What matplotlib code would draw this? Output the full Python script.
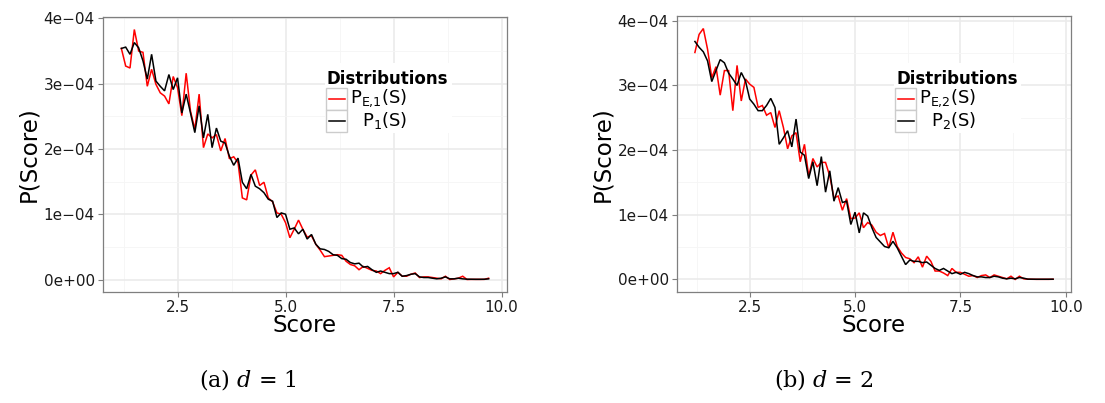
import numpy as np
import matplotlib
matplotlib.use("Agg")
import matplotlib.pyplot as plt
from matplotlib.patches import Rectangle
from matplotlib.lines import Line2D
from matplotlib.ticker import FixedLocator, FuncFormatter

# ---- data (probabilities in units of 1e-4) ----
scores = np.round(np.arange(12, 98) / 10.0, 1)   # 1.2 ... 9.7

p_e1 = [3.54, 3.27, 3.24, 3.83, 3.50, 3.48, 2.96, 3.22, 2.99, 2.86,
        2.81, 2.69, 3.11, 2.94, 2.51, 3.16, 2.58, 2.30, 2.84, 2.02,
        2.23, 2.17, 2.22, 1.97, 2.16, 1.85, 1.88, 1.79, 1.25, 1.22,
        1.60, 1.68, 1.44, 1.49, 1.25, 1.19, 1.02, 1.00, 0.87, 0.64,
        0.77, 0.91, 0.77, 0.65, 0.67, 0.54, 0.45, 0.35, 0.36, 0.37,
        0.38, 0.37, 0.28, 0.23, 0.21, 0.15, 0.20, 0.17, 0.14, 0.13,
        0.09, 0.14, 0.18, 0.04, 0.11, 0.05, 0.05, 0.08, 0.10, 0.03,
        0.04, 0.04, 0.03, 0.02, 0.01, 0.05, 0.00, 0.01, 0.02, 0.05,
        0.00, 0.002, 0.002, 0.002, 0.002, 0.02]
p_1 = [3.54, 3.56, 3.45, 3.63, 3.55, 3.35, 3.07, 3.45, 3.04, 2.96,
       2.89, 3.14, 2.91, 3.09, 2.55, 2.84, 2.55, 2.25, 2.66, 2.17,
       2.53, 2.02, 2.32, 2.12, 2.09, 1.89, 1.75, 1.86, 1.49, 1.39,
       1.61, 1.43, 1.39, 1.33, 1.23, 1.20, 0.95, 1.02, 1.00, 0.77,
       0.79, 0.70, 0.77, 0.62, 0.69, 0.54, 0.47, 0.46, 0.43, 0.38,
       0.37, 0.32, 0.31, 0.26, 0.24, 0.25, 0.19, 0.20, 0.15, 0.11,
       0.13, 0.11, 0.09, 0.09, 0.11, 0.05, 0.06, 0.08, 0.09, 0.04,
       0.03, 0.03, 0.02, 0.01, 0.02, 0.04, 0.01, 0.01, 0.02, 0.01,
       0.005, 0.004, 0.003, 0.003, 0.004, 0.01]
p_e2 = [3.51, 3.79, 3.88, 3.56, 3.12, 3.29, 2.85, 3.23, 3.23, 2.61,
        3.31, 2.76, 3.10, 3.02, 2.97, 2.66, 2.69, 2.54, 2.58, 2.35,
        2.61, 2.35, 2.02, 2.22, 2.27, 1.82, 2.09, 1.60, 1.87, 1.74,
        1.81, 1.81, 1.60, 1.26, 1.29, 1.07, 1.25, 0.94, 0.95, 1.03,
        0.80, 0.88, 0.84, 0.73, 0.68, 0.71, 0.49, 0.73, 0.51, 0.41,
        0.34, 0.32, 0.26, 0.35, 0.19, 0.36, 0.28, 0.13, 0.13, 0.10,
        0.06, 0.17, 0.11, 0.11, 0.08, 0.05, 0.06, 0.03, 0.06, 0.07,
        0.03, 0.07, 0.05, 0.03, 0.01, 0.05, 0.00, 0.05, 0.01, 0.004,
        0.003, 0.002, 0.002, 0.002, 0.002, 0.003]
p_2 = [3.68, 3.59, 3.52, 3.38, 3.06, 3.23, 3.40, 3.35, 3.19, 3.10,
       3.00, 3.20, 3.07, 2.79, 2.71, 2.61, 2.61, 2.69, 2.80, 2.66,
       2.09, 2.19, 2.30, 2.05, 2.48, 1.97, 1.92, 1.56, 1.82, 1.45,
       1.90, 1.35, 1.68, 1.21, 1.42, 1.19, 1.21, 0.85, 1.04, 0.72,
       1.03, 0.98, 0.80, 0.65, 0.58, 0.51, 0.49, 0.59, 0.49, 0.36,
       0.23, 0.30, 0.28, 0.28, 0.26, 0.27, 0.22, 0.17, 0.14, 0.17,
       0.13, 0.09, 0.11, 0.08, 0.11, 0.09, 0.06, 0.04, 0.04, 0.03,
       0.03, 0.05, 0.04, 0.02, 0.01, 0.02, 0.01, 0.03, 0.02, 0.005,
       0.004, 0.003, 0.003, 0.003, 0.003, 0.004]

series_colors = ["#ff0000", "#000000"]
x_ticks = [2.5, 5.0, 7.5, 10.0]
y_ticks = [0.0, 1e-4, 2e-4, 3e-4, 4e-4]

panels = [
    dict(curves=[p_e1, p_1],
         labels=[r"P$_{\mathrm{E{,}1}}$(S)", r"P$_{\mathrm{1}}$(S)"],
         caption=r"(a) $d$ = 1",
         box=(103, 17, 507, 292), leg_dx=0, cap_x=248),
    dict(curves=[p_e2, p_2],
         labels=[r"P$_{\mathrm{E{,}2}}$(S)", r"P$_{\mathrm{2}}$(S)"],
         caption=r"(b) $d$ = 2",
         box=(677, 16, 1071, 292), leg_dx=569, cap_x=824),
]

W, H = 1105, 403
fig = plt.figure(figsize=(W / 100, H / 100), dpi=100)
fig.patch.set_facecolor("white")
plt.rcParams["font.family"] = ["DejaVu Sans"]


def fx(px):
    return px / W


def fy(py):
    return 1 - py / H


def sci_fmt(v, _pos):
    s = "%.0e" % v
    return s.replace("-", "\u2212")


for p in panels:
    x0, y0, x1, y1 = p["box"]
    ax = fig.add_axes([fx(x0), fy(y1), fx(x1) - fx(x0), fy(y0) - fy(y1)])
    ax.set_facecolor("white")

    for vals, col in zip(p["curves"], series_colors):
        ax.plot(scores, np.asarray(vals) * 1e-4, color=col, lw=1.1,
                solid_joinstyle="miter", zorder=3)

    # ggplot-style 5% expansion of the data range
    xr = scores.max() - scores.min()
    ax.set_xlim(scores.min() - 0.05 * xr, scores.max() + 0.05 * xr)
    allv = np.concatenate([np.asarray(c) for c in p["curves"]]) * 1e-4
    yr = allv.max() - allv.min()
    ax.set_ylim(allv.min() - 0.05 * yr, allv.max() + 0.05 * yr)

    ax.xaxis.set_major_locator(FixedLocator(x_ticks))
    ax.xaxis.set_minor_locator(FixedLocator([1.25, 3.75, 6.25, 8.75]))
    ax.yaxis.set_major_locator(FixedLocator(y_ticks))
    ax.yaxis.set_minor_locator(FixedLocator([0.5e-4, 1.5e-4, 2.5e-4, 3.5e-4]))
    ax.xaxis.set_major_formatter(FuncFormatter(lambda v, _p: "%.1f" % v))
    ax.yaxis.set_major_formatter(FuncFormatter(sci_fmt))

    ax.grid(which="major", color="#ebebeb", lw=1.2, zorder=0)
    ax.grid(which="minor", color="#f5f5f5", lw=0.6, zorder=0)
    ax.set_axisbelow(True)

    ax.tick_params(which="major", direction="out", length=3.5, width=0.8,
                   color="#7f7f7f", labelsize=11, labelcolor="#1a1a1a", pad=2.5)
    ax.tick_params(which="minor", length=0)
    for sp in ax.spines.values():
        sp.set_color("#7f7f7f")
        sp.set_linewidth(0.9)

    ax.set_xlabel("Score", fontsize=16.5, labelpad=-1)
    ax.set_ylabel("P(Score)", fontsize=16.5, labelpad=2)

    # legend drawn in figure space
    dx = p["leg_dx"]
    fig.add_artist(Rectangle((fx(325 + dx), fy(133)), fx(127), 70 / H,
                             transform=fig.transFigure, facecolor="white",
                             edgecolor="none", zorder=5))
    fig.text(fx(327 + dx), fy(83.5), "Distributions", fontsize=12,
             fontweight="bold", ha="left", va="baseline", zorder=6)
    key_tops = [88, 110]
    baselines = [103.5, 126]
    for k, (top, base) in enumerate(zip(key_tops, baselines)):
        fig.add_artist(Rectangle((fx(326 + dx), fy(top + 22)), fx(21), 22 / H,
                                 transform=fig.transFigure, facecolor="white",
                                 edgecolor="#cccccc", lw=1.0, zorder=6))
        mid = top + 11
        fig.add_artist(Line2D([fx(328.5 + dx), fx(344.5 + dx)], [fy(mid), fy(mid)],
                              transform=fig.transFigure, color=series_colors[k],
                              lw=1.1, zorder=7))
        fig.text(fx(407 + dx), fy(base), p["labels"][k], fontsize=13,
                 ha="right", va="baseline", zorder=7)

    fig.text(fx(p["cap_x"]), fy(379), p["caption"], fontsize=16,
             family="DejaVu Serif", math_fontfamily="dejavuserif",
             ha="center", va="center")

fig.savefig("out.png", dpi=100, facecolor="white")
